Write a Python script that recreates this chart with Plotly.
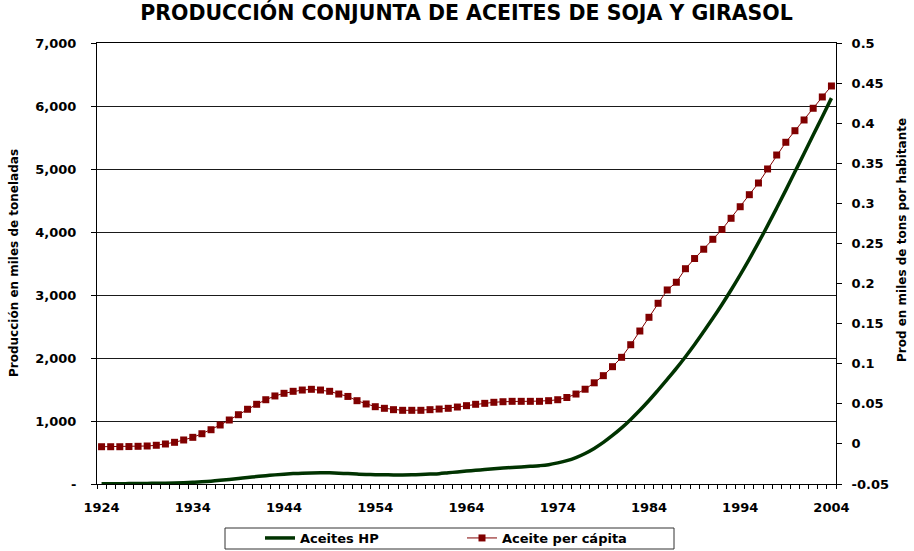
import plotly.graph_objects as go

# Years covered by the series
years = list(range(1924, 2005))

# Combined soybean + sunflower oil production (thousand tonnes)
aceites_hp = [
    5, 5, 5, 6, 7, 9, 11, 13, 16, 20,
    27, 35, 45, 58, 72, 88, 103, 118, 132, 145,
    156, 165, 172, 176, 178, 177, 172, 165, 158, 152,
    148, 146, 144, 143, 145, 150, 157, 164, 178, 192,
    205, 217, 230, 242, 253, 262, 270, 280, 291, 307,
    335, 370, 420, 485, 565, 660, 770, 890, 1025, 1170,
    1325, 1490, 1660, 1835, 2020, 2215, 2420, 2630, 2850, 3080,
    3320, 3570, 3830, 4100, 4380, 4665, 4955, 5245, 5540, 5830,
    6125,
]

# Production per inhabitant (thousand tonnes per person)
aceite_per_capita = [
    -0.0035, -0.0035, -0.0035, -0.0033, -0.0030, -0.0026, -0.0017, -0.0001, 0.0020, 0.0049,
    0.0082, 0.0127, 0.0177, 0.0236, 0.0298, 0.0364, 0.0432, 0.0494, 0.0551, 0.0598,
    0.0631, 0.0656, 0.0672, 0.0681, 0.0672, 0.0656, 0.0622, 0.0592, 0.0539, 0.0498,
    0.0464, 0.0444, 0.0427, 0.0419, 0.0419, 0.0419, 0.0427, 0.0435, 0.0444, 0.0460,
    0.0477, 0.0494, 0.0506, 0.0519, 0.0526, 0.0531, 0.0531, 0.0531, 0.0531, 0.0539,
    0.0551, 0.0579, 0.0622, 0.0682, 0.0762, 0.0851, 0.0963, 0.1080, 0.1237, 0.1408,
    0.1579, 0.1754, 0.1920, 0.2016, 0.2185, 0.2312, 0.2428, 0.2552, 0.2674, 0.2814,
    0.2958, 0.3108, 0.3254, 0.3429, 0.3603, 0.3762, 0.3906, 0.4040, 0.4186, 0.4327,
    0.4464,
]

# Axis ticks and labels
x_tickvals = list(range(1924, 2005, 10))
left_tickvals = [0, 1000, 2000, 3000, 4000, 5000, 6000, 7000]
left_ticktext = ["-", "1,000", "2,000", "3,000", "4,000", "5,000", "6,000", "7,000"]
right_tickvals = [-0.05, 0, 0.05, 0.1, 0.15, 0.2, 0.25, 0.3, 0.35, 0.4, 0.45, 0.5]
right_ticktext = ["-0.05", "0", "0.05", "0.1", "0.15", "0.2", "0.25", "0.3", "0.35", "0.4", "0.45", "0.5"]

title_text = "PRODUCCIÓN CONJUNTA DE ACEITES DE SOJA Y GIRASOL"
left_title = "Producción en miles de toneladas"
right_title = "Prod en miles de tons por habitante"

FONT = "DejaVu Sans"
GREEN = "#003300"
RED = "#800000"

# Plot area in pixels
W, H = 914, 551
L, R, T, B = 97, 836, 43, 484
pw, ph = R - L, B - T


def px(x):
    return (x - L) / pw


def py(y):
    return (B - y) / ph


fig = go.Figure()

fig.add_trace(go.Scatter(
    x=years, y=aceites_hp, name="Aceites HP", mode="lines",
    line=dict(color=GREEN, width=3.5, shape="spline", smoothing=1.0),
    legend="legend",
))

fig.add_trace(go.Scatter(
    x=years, y=aceite_per_capita, name="Aceite per cápita", mode="lines+markers",
    line=dict(color=RED, width=1),
    marker=dict(symbol="square", size=7, color=RED),
    yaxis="y2", legend="legend2",
))

tick_font = dict(family=FONT, size=13, color="black", weight="bold")

fig.update_layout(
    width=W, height=H,
    margin=dict(l=L, r=W - R, t=T, b=H - B, autoexpand=False),
    paper_bgcolor="white", plot_bgcolor="white",
    title=dict(
        text=title_text, x=0.5, xanchor="center", xref="paper",
        y=1 - 13 / H, yref="container", yanchor="middle",
        font=dict(family=FONT, size=20.5, color="black", weight="bold"),
    ),
    xaxis=dict(
        range=[1923.5, 2004.5], tickmode="array", tickvals=x_tickvals,
        ticks="", showgrid=False, zeroline=False,
        showline=True, linecolor="black", linewidth=1, mirror=True,
        tickfont=tick_font, ticklabelstandoff=11,
        minor=dict(ticks="outside", ticklen=4, tickcolor="black",
                   tickmode="linear", tick0=1923.5, dtick=1, showgrid=False),
    ),
    yaxis=dict(
        range=[0, 7000], tickmode="array", tickvals=left_tickvals, ticktext=left_ticktext,
        ticks="outside", ticklen=5, tickcolor="black",
        showgrid=True, gridcolor="#1a1a1a", gridwidth=1, zeroline=False,
        showline=True, linecolor="black", linewidth=1,
        tickfont=tick_font, ticklabelstandoff=12,
    ),
    yaxis2=dict(
        range=[-0.05, 0.5], overlaying="y", side="right",
        tickmode="array", tickvals=right_tickvals, ticktext=right_ticktext,
        ticks="outside", ticklen=5, tickcolor="black",
        showgrid=False, zeroline=False,
        showline=True, linecolor="black", linewidth=1,
        tickfont=tick_font, ticklabelstandoff=7,
    ),
    legend=dict(
        orientation="h", x=px(260), xanchor="left", y=py(538), yanchor="middle",
        font=dict(family=FONT, size=13, color="black", weight="bold"),
        bgcolor="rgba(0,0,0,0)", borderwidth=0,
    ),
    legend2=dict(
        orientation="h", x=px(462), xanchor="left", y=py(538), yanchor="middle",
        font=dict(family=FONT, size=13, color="black", weight="bold"),
        bgcolor="rgba(0,0,0,0)", borderwidth=0,
    ),
    showlegend=True,
)

# Legend frame
fig.add_shape(
    type="rect", xref="paper", yref="paper",
    x0=px(225), x1=px(674), y0=py(549), y1=py(528),
    line=dict(color="#333333", width=1), fillcolor="rgba(0,0,0,0)",
)

# Axis titles
axis_title_font = dict(family=FONT, size=12, color="black", weight="bold")
fig.add_annotation(
    text=left_title, textangle=-90, xref="paper", yref="paper",
    x=px(14), y=py(263), xanchor="center", yanchor="middle",
    showarrow=False, font=axis_title_font,
)
fig.add_annotation(
    text=right_title, textangle=-90, xref="paper", yref="paper",
    x=px(902), y=py(240), xanchor="center", yanchor="middle",
    showarrow=False, font=axis_title_font,
)

fig.write_html("out.html")
